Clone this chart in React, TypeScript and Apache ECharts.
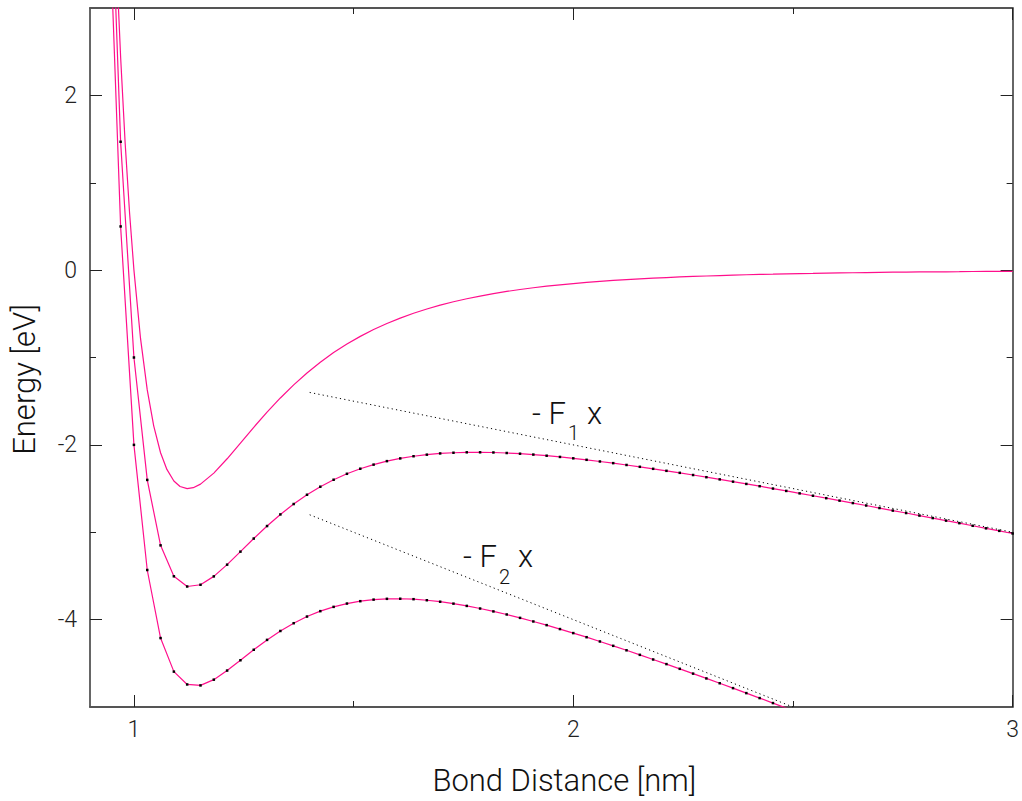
import React, { useEffect, useRef } from "react";
import * as echarts from "echarts";

// Smooth (unmarked) potential curve V(x)
const xUpper = [
  0.95, 0.96, 0.9697, 0.98, 0.99, 1.0, 1.015, 1.0303, 1.045, 1.0606, 1.075, 1.0909, 1.105, 1.1212, 1.135, 1.1515,
  1.1818, 1.2121, 1.2424, 1.2727, 1.303, 1.3333, 1.3636, 1.3939, 1.4242, 1.4545, 1.4848, 1.5152, 1.5455, 1.5758,
  1.6061, 1.6364, 1.6667, 1.697, 1.7273, 1.7576, 1.7879, 1.8182, 1.8485, 1.8788, 1.9091, 1.9394, 1.9697, 2.0,
  2.0303, 2.0606, 2.0909, 2.1212, 2.1515, 2.1818, 2.2121, 2.2424, 2.2727, 2.303, 2.3333, 2.3636, 2.3939, 2.4242,
  2.4545, 2.4848, 2.5152, 2.5455, 2.5758, 2.6061, 2.6364, 2.6667, 2.697, 2.7273, 2.7576, 2.7879, 2.8182, 2.8485,
  2.8788, 2.9091, 2.9394, 2.9697, 3.0,
];
const energyUpper = [
  4.902, 3.546, 2.439, 1.455, 0.66, 0.0, -0.782, -1.371, -1.782, -2.09, -2.281, -2.413, -2.476, -2.5, -2.49, -2.449,
  -2.323, -2.159, -1.98, -1.799, -1.626, -1.463, -1.313, -1.177, -1.055, -0.944, -0.846, -0.758, -0.68, -0.611,
  -0.549, -0.494, -0.445, -0.401, -0.362, -0.328, -0.297, -0.269, -0.244, -0.222, -0.202, -0.184, -0.168, -0.154,
  -0.141, -0.129, -0.118, -0.109, -0.1, -0.092, -0.085, -0.078, -0.072, -0.067, -0.062, -0.057, -0.053, -0.049,
  -0.046, -0.042, -0.039, -0.037, -0.034, -0.032, -0.03, -0.028, -0.026, -0.024, -0.023, -0.021, -0.02, -0.019,
  -0.018, -0.016, -0.015, -0.015, -0.014,
];

// Sampled (dotted-marker) curves
const xSampled = [
  0.9394, 0.9697, 1.0, 1.0303, 1.0606, 1.0909, 1.1212, 1.1515, 1.1818, 1.2121, 1.2424, 1.2727, 1.303, 1.3333,
  1.3636, 1.3939, 1.4242, 1.4545, 1.4848, 1.5152, 1.5455, 1.5758, 1.6061, 1.6364, 1.6667, 1.697, 1.7273, 1.7576,
  1.7879, 1.8182, 1.8485, 1.8788, 1.9091, 1.9394, 1.9697, 2.0, 2.0303, 2.0606, 2.0909, 2.1212, 2.1515, 2.1818,
  2.2121, 2.2424, 2.2727, 2.303, 2.3333, 2.3636, 2.3939, 2.4242, 2.4545, 2.4848, 2.5152, 2.5455, 2.5758, 2.6061,
  2.6364, 2.6667, 2.697, 2.7273, 2.7576, 2.7879, 2.8182, 2.8485, 2.8788, 2.9091, 2.9394, 2.9697, 3.0,
];
const energyMiddle = [
  5.684, 1.469, -1.0, -2.401, -3.15, -3.504, -3.621, -3.601, -3.505, -3.371, -3.222, -3.072, -2.929, -2.796,
  -2.677, -2.571, -2.479, -2.399, -2.331, -2.273, -2.226, -2.186, -2.155, -2.13, -2.112, -2.098, -2.09, -2.085,
  -2.085, -2.087, -2.093, -2.101, -2.111, -2.124, -2.138, -2.154, -2.171, -2.19, -2.209, -2.23, -2.251, -2.274,
  -2.297, -2.32, -2.345, -2.37, -2.395, -2.421, -2.447, -2.473, -2.5, -2.527, -2.555, -2.582, -2.61, -2.638,
  -2.666, -2.694, -2.723, -2.752, -2.78, -2.809, -2.838, -2.867, -2.896, -2.926, -2.955, -2.984, -3.014,
];
const energyLower = [
  4.744, 0.5, -2.0, -3.432, -4.211, -4.595, -4.742, -4.753, -4.687, -4.583, -4.465, -4.345, -4.232, -4.13,
  -4.041, -3.965, -3.903, -3.854, -3.816, -3.789, -3.771, -3.762, -3.761, -3.766, -3.778, -3.795, -3.817, -3.843,
  -3.873, -3.906, -3.941, -3.98, -4.021, -4.063, -4.108, -4.154, -4.201, -4.25, -4.3, -4.351, -4.403, -4.456,
  -4.509, -4.563, -4.618, -4.673, -4.728, -4.784, -4.841, -4.898, -4.955, -5.012, -5.07,
];

// Tangent (force) lines
const tangent1X = [1.4, 3.0];
const tangent1Y = [-1.4, -3.0];
const tangent2X = [1.4, 2.5];
const tangent2Y = [-2.8, -5.0];

// Ticks
const xMajorTicks = [1, 2, 3];
const xMinorTicks = [1.5, 2.5];
const yMajorTicks = [-4, -2, 0, 2];
const yMinorTicks = [-3, -1, 1];

// Annotation anchors (data coordinates)
const label1Anchor = [1.906, -1.64];
const label2Anchor = [1.749, -3.28];
const label1Sub = "1";
const label2Sub = "2";

const PINK = "#ff0f8c";
const FONT = "Roboto, 'Liberation Sans', sans-serif";

export default function App() {
  const ref = useRef<HTMLDivElement>(null);

  useEffect(() => {
    document.body.style.margin = "0";
    if (!ref.current) return;
    const chart = echarts.init(ref.current, null, { renderer: "svg" });

    const frameLine = { show: true, onZero: false, lineStyle: { color: "#555", width: 2 } };
    const sideLine = { show: true, onZero: false, lineStyle: { color: "#333", width: 1.5 } };
    const hiddenLine = { show: false, onZero: false };
    const tick = (vals: number[], len: number) => ({
      show: true,
      inside: true,
      length: len,
      customValues: vals,
      lineStyle: { color: "#222", width: 1 },
    });
    const noLabel = { show: false };
    const noSplit = { show: false };

    const xBase = { type: "value" as const, min: 0.9, max: 3, splitLine: noSplit };
    const yBase = { type: "value" as const, min: -5, max: 3, splitLine: noSplit };

    chart.setOption({
      animation: false,
      backgroundColor: "#fff",
      grid: { left: 90, right: 9, top: 8, bottom: 93, containLabel: false },
      xAxis: [
        {
          ...xBase,
          position: "bottom",
          axisLine: frameLine,
          axisTick: tick(xMajorTicks, 12),
          axisLabel: {
            customValues: xMajorTicks,
            fontSize: 23,
            margin: 11,
            color: "#222",
            fontFamily: FONT,
            fontWeight: 300,
          },
          name: "Bond Distance [nm]",
          nameLocation: "middle",
          nameGap: 58,
          nameTextStyle: {
            fontSize: 31,
            color: "#111",
            fontFamily: FONT,
            fontWeight: 300,
            padding: [0, 0, 0, 26],
          },
        },
        { ...xBase, position: "bottom", axisLine: hiddenLine, axisTick: tick(xMinorTicks, 6), axisLabel: noLabel },
        { ...xBase, position: "top", axisLine: frameLine, axisTick: tick(xMajorTicks, 12), axisLabel: noLabel },
        { ...xBase, position: "top", axisLine: hiddenLine, axisTick: tick(xMinorTicks, 6), axisLabel: noLabel },
      ],
      yAxis: [
        {
          ...yBase,
          position: "left",
          axisLine: sideLine,
          axisTick: tick(yMajorTicks, 12),
          axisLabel: {
            customValues: yMajorTicks,
            fontSize: 23,
            margin: 13,
            color: "#222",
            fontFamily: FONT,
            fontWeight: 300,
          },
          name: "Energy [eV]",
          nameLocation: "middle",
          nameGap: 50,
          nameTextStyle: {
            fontSize: 31,
            color: "#111",
            fontFamily: FONT,
            fontWeight: 300,
            padding: [0, 44, 0, 0],
          },
        },
        { ...yBase, position: "left", axisLine: hiddenLine, axisTick: tick(yMinorTicks, 6), axisLabel: noLabel },
        { ...yBase, position: "right", axisLine: sideLine, axisTick: tick(yMajorTicks, 12), axisLabel: noLabel },
        { ...yBase, position: "right", axisLine: hiddenLine, axisTick: tick(yMinorTicks, 6), axisLabel: noLabel },
      ],
      series: [
        {
          type: "line",
          data: xUpper.map((x, i) => [x, energyUpper[i]]),
          showSymbol: false,
          clip: true,
          silent: true,
          lineStyle: { color: PINK, width: 1.2 },
          z: 2,
        },
        {
          type: "line",
          data: xSampled.map((x, i) => [x, energyMiddle[i]]),
          symbol: "rect",
          symbolSize: 2.5,
          clip: true,
          silent: true,
          itemStyle: { color: "#000" },
          lineStyle: { color: PINK, width: 1.2 },
          z: 3,
        },
        {
          type: "line",
          data: energyLower.map((y, i) => [xSampled[i], y]),
          symbol: "rect",
          symbolSize: 2.5,
          clip: true,
          silent: true,
          itemStyle: { color: "#000" },
          lineStyle: { color: PINK, width: 1.2 },
          z: 3,
        },
        {
          type: "line",
          data: tangent1X.map((x, i) => [x, tangent1Y[i]]),
          showSymbol: false,
          clip: true,
          silent: true,
          lineStyle: { color: "#000", width: 1, type: [1.2, 3.2] },
          z: 4,
        },
        {
          type: "line",
          data: tangent2X.map((x, i) => [x, tangent2Y[i]]),
          showSymbol: false,
          clip: true,
          silent: true,
          lineStyle: { color: "#000", width: 1, type: [1.2, 3.2] },
          z: 4,
        },
      ],
    });

    const p1 = chart.convertToPixel({ xAxisIndex: 0, yAxisIndex: 0 }, label1Anchor) as number[];
    const p2 = chart.convertToPixel({ xAxisIndex: 0, yAxisIndex: 0 }, label2Anchor) as number[];
    const mainStyle = { fill: "#111", fontSize: 31, fontFamily: FONT, fontWeight: 300, textVerticalAlign: "middle" };
    const subStyle = { fill: "#111", fontSize: 20, fontFamily: FONT, fontWeight: 300, textVerticalAlign: "middle" };
    const makeLabel = (p: number[], sub: string) => [
      { type: "text", x: p[0], y: p[1], style: { ...mainStyle, text: "- F" } },
      { type: "text", x: p[0] + 36, y: p[1] + 20, style: { ...subStyle, text: sub } },
      { type: "text", x: p[0] + 55, y: p[1], style: { ...mainStyle, text: "x" } },
    ];
    chart.setOption({
      graphic: [...makeLabel(p1, label1Sub), ...makeLabel(p2, label2Sub)],
    });

    return () => chart.dispose();
  }, []);

  return <div ref={ref} style={{ width: 1022, height: 801 }} />;
}
